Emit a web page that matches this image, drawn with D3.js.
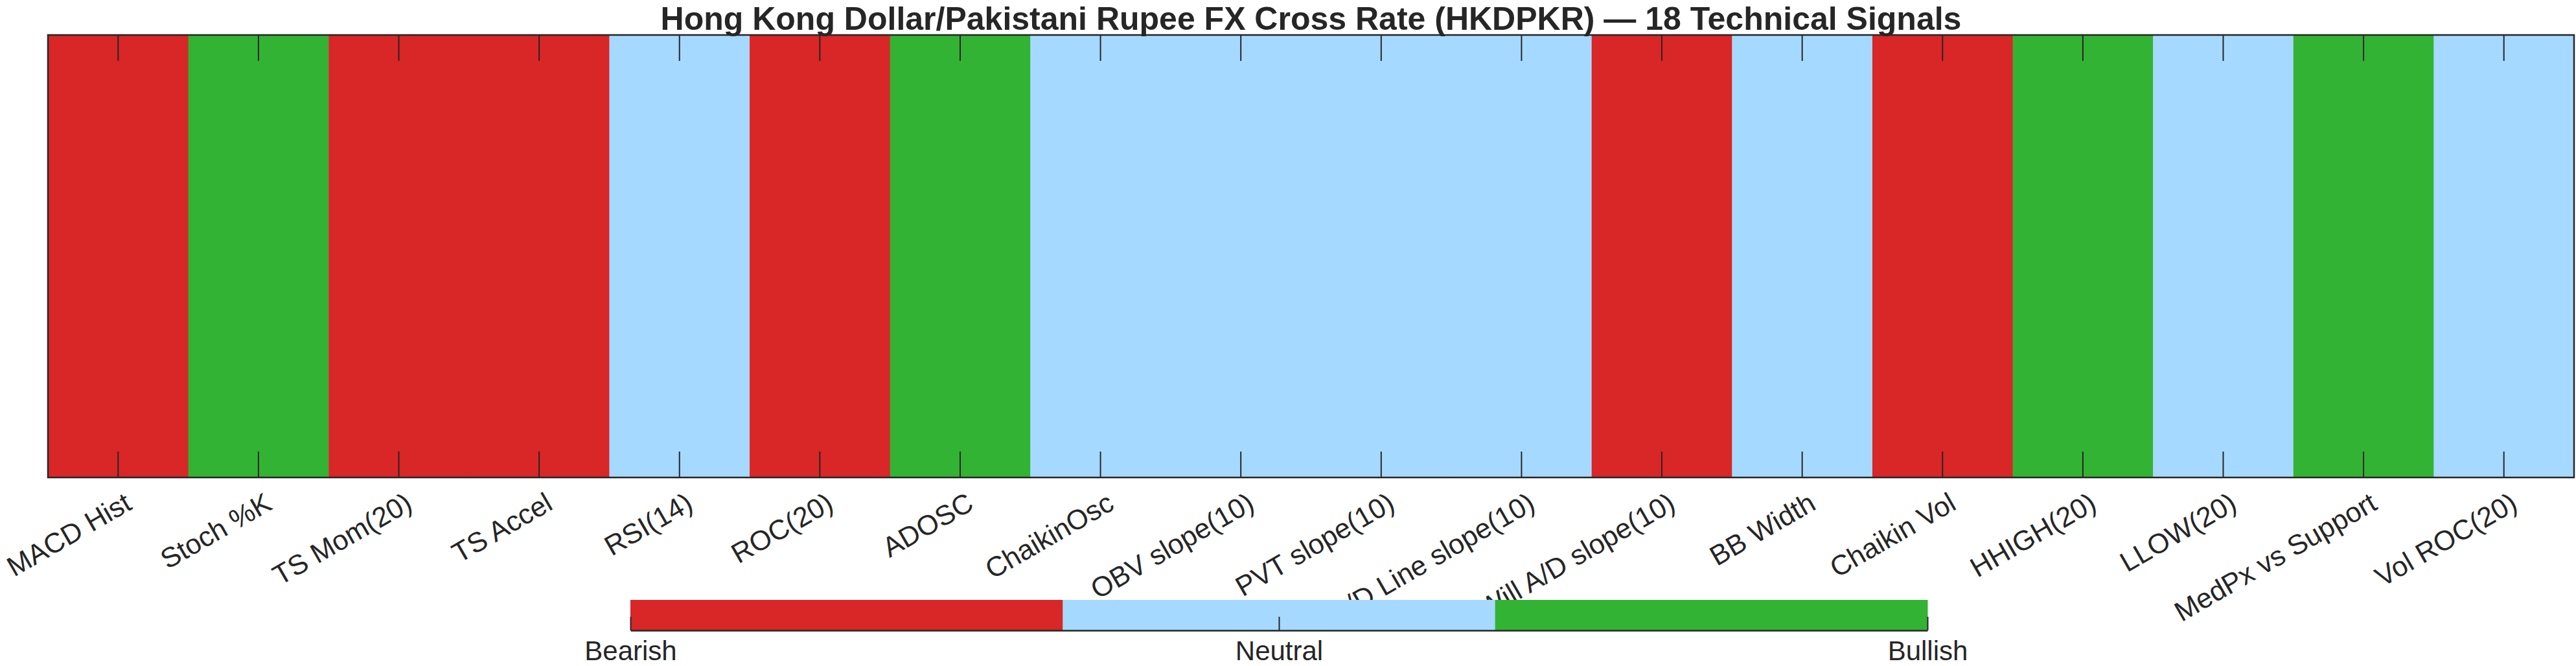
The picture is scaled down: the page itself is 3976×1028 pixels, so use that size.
<!DOCTYPE html>
<html>
<head>
<meta charset="utf-8">
<script src="https://cdn.jsdelivr.net/npm/d3@7"></script>
<style>
  html, body { margin: 0; padding: 0; background: #ffffff; }
  svg { display: block; }
  text { font-family: "Liberation Sans", Arial, Helvetica, sans-serif; fill: #262626; }
</style>
</head>
<body>
<svg id="chart" width="3976" height="1028"></svg>
<script>
// ---- data ----
const categories = ["MACD Hist", "Stoch %K", "TS Mom(20)", "TS Accel", "RSI(14)", "ROC(20)",
  "ADOSC", "ChaikinOsc", "OBV slope(10)", "PVT slope(10)", "A/D Line slope(10)",
  "Will A/D slope(10)", "BB Width", "Chaikin Vol", "HHIGH(20)", "LLOW(20)",
  "MedPx vs Support", "Vol ROC(20)"];
// -1 = Bearish, 0 = Neutral, 1 = Bullish
const signals = [-1, 1, -1, -1, 0, -1, 1, 0, 0, 0, 0, -1, 0, -1, 1, 0, 1, 0];
const signalLevels = [-1, 0, 1];
const signalNames = ["Bearish", "Neutral", "Bullish"];
const signalColors = ["#d92626", "#a6d9ff", "#33b333"];
const titleText = "Hong Kong Dollar/Pakistani Rupee FX Cross Rate (HKDPKR) \u2014 18 Technical Signals";

// ---- layout ----
const W = 3976, H = 1028;
const plot = { left: 74, right: 3973, top: 54, bottom: 737 };
const cbar = { left: 973, right: 2975, top: 926, bottom: 973 };
const axisColor = "#262626";

const svg = d3.select("#chart");

const x = d3.scaleBand().domain(categories).range([plot.left, plot.right]).padding(0);
const y = d3.scaleLinear().domain([0, 1]).range([plot.bottom, plot.top]);
const color = d3.scaleOrdinal().domain(signalLevels).range(signalColors);

// cells
svg.append("g").selectAll("rect")
  .data(categories.map((c, i) => ({ c, v: signals[i] })))
  .join("rect")
  .attr("x", d => x(d.c))
  .attr("y", y(1))
  .attr("width", x.bandwidth() + 0.5)
  .attr("height", y(0) - y(1))
  .attr("fill", d => color(d.v));

// bottom axis (ticks inward)
const gx = svg.append("g")
  .attr("transform", `translate(0,${plot.bottom})`)
  .call(d3.axisBottom(x).tickSize(-40).tickSizeOuter(0));
gx.select(".domain").remove();
gx.selectAll(".tick line").attr("stroke", axisColor).attr("stroke-width", 2);
gx.selectAll(".tick text")
  .attr("font-size", 43)
  .attr("text-anchor", "end")
  .attr("y", 0).attr("dy", "0.72em")
  .attr("transform", "translate(8,21) rotate(-30)")
  .style("fill", axisColor);

// top axis (ticks inward, no labels)
const gt = svg.append("g")
  .attr("transform", `translate(0,${plot.top})`)
  .call(d3.axisTop(x).tickSize(-40).tickSizeOuter(0).tickFormat(""));
gt.select(".domain").remove();
gt.selectAll(".tick line").attr("stroke", axisColor).attr("stroke-width", 2);

// axes box
svg.append("rect")
  .attr("x", plot.left).attr("y", plot.top)
  .attr("width", plot.right - plot.left).attr("height", plot.bottom - plot.top)
  .attr("fill", "none").attr("stroke", axisColor).attr("stroke-width", 2.5);

// title
svg.append("text")
  .attr("x", (plot.left + plot.right) / 2)
  .attr("y", 46)
  .attr("text-anchor", "middle")
  .attr("font-size", 50)
  .attr("font-weight", "bold")
  .text(titleText);

// colorbar region (covers overlapping tick labels)
svg.append("rect")
  .attr("x", cbar.left).attr("y", cbar.top)
  .attr("width", cbar.right - cbar.left).attr("height", H - cbar.top)
  .attr("fill", "#ffffff");

const cb = d3.scaleBand().domain(signalLevels).range([cbar.left, cbar.right]).padding(0);
svg.append("g").selectAll("rect")
  .data(signalLevels)
  .join("rect")
  .attr("x", d => cb(d))
  .attr("y", cbar.top)
  .attr("width", cb.bandwidth() + 0.5)
  .attr("height", cbar.bottom - cbar.top)
  .attr("fill", d => color(d));

const cbTick = d3.scaleLinear().domain([-1, 1]).range([cbar.left, cbar.right]);
const gc = svg.append("g")
  .attr("transform", `translate(0,${cbar.bottom})`)
  .call(d3.axisBottom(cbTick).tickValues(signalLevels).tickSize(-21).tickSizeOuter(0)
    .tickFormat(d => signalNames[signalLevels.indexOf(d)]));
gc.select(".domain").attr("stroke", axisColor).attr("stroke-width", 2.5);
gc.selectAll(".tick line").attr("stroke", axisColor).attr("stroke-width", 2);
gc.selectAll(".tick text")
  .attr("font-size", 42)
  .attr("y", 46).attr("dy", 0)
  .style("fill", axisColor);
</script>
</body>
</html>
